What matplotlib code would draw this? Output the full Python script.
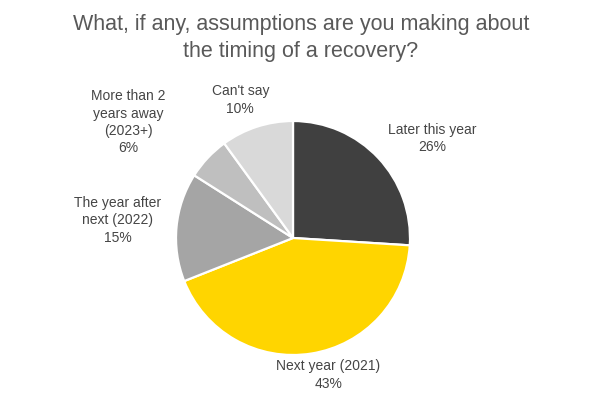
import matplotlib

matplotlib.use("Agg")
import matplotlib.pyplot as plt

# data
categories = ["Later this year", "Next year (2021)", "The year after\nnext (2022)",
              "More than 2\nyears away\n(2023+)", "Can't say"]
shares = [26, 43, 15, 6, 10]
colors = ["#404040", "#FFD500", "#A5A5A5", "#BFBFBF", "#D9D9D9"]
# label centres, in units of the pie radius
label_pos = [(1.19, 0.85), (0.30, -1.17), (-1.50, 0.15), (-1.41, 0.99), (-0.45, 1.18)]

plt.rcParams["font.family"] = ["Liberation Sans", "DejaVu Sans"]
fig = plt.figure(figsize=(6.02, 3.93), dpi=100)
W, H = 602, 393
cx, cy, r = 293, 238, 117
ax = fig.add_axes([(cx - r) / W, (H - cy - r) / H, 2 * r / W, 2 * r / H])

ax.pie(shares, colors=colors, startangle=90, counterclock=False, radius=1,
       wedgeprops={"edgecolor": "white", "linewidth": 1.6})
ax.set_xlim(-1, 1)
ax.set_ylim(-1, 1)
ax.set_aspect("equal")

for name, val, (x, y) in zip(categories, shares, label_pos):
    ax.text(x, y, "%s\n%d%%" % (name, val), ha="center", va="center",
            fontsize=10, color="#454545", linespacing=1.3, clip_on=False)

fig.text(0.5, 1 - 38 / H, "What, if any, assumptions are you making about\nthe timing of a recovery?",
         ha="center", va="center", fontsize=15.5, color="#595959", linespacing=1.35)

fig.savefig("out.png", dpi=100)
